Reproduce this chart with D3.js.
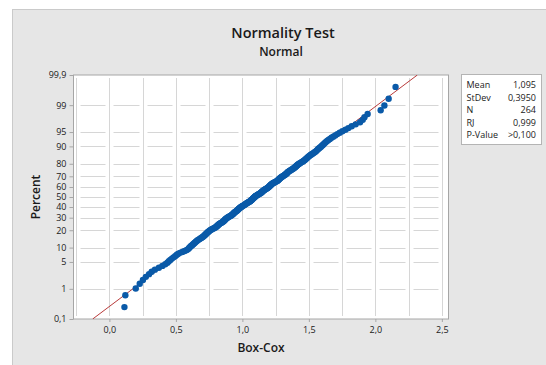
<!DOCTYPE html>
<html>
<head>
<meta charset="utf-8">
<script src="https://cdn.jsdelivr.net/npm/d3@7"></script>
<style>
  html, body { margin: 0; padding: 0; background: #ffffff; }
  svg { display: block; }
  text { font-family: "Open Sans", "Noto Sans", sans-serif; fill: #1a1a1a; }
</style>
</head>
<body>
<svg id="chart" width="546" height="365"></svg>
<script>
// ---------------- data ----------------
const chartTitle = "Normality Test";
const chartSubtitle = "Normal";
const xLabel = "Box-Cox";
const yLabel = "Percent";

// sorted Box-Cox values, N = 264
const boxCox = [
  0.113, 0.120, 0.198, 0.228, 0.252, 0.274, 0.298, 0.318, 0.342, 0.372,
  0.398, 0.420, 0.436, 0.447, 0.458, 0.470, 0.482, 0.494, 0.505, 0.515,
  0.530, 0.548, 0.566, 0.582, 0.592, 0.598, 0.604, 0.610, 0.617, 0.624,
  0.630, 0.636, 0.642, 0.648, 0.655, 0.661, 0.668, 0.676, 0.684, 0.691,
  0.698, 0.704, 0.710, 0.715, 0.720, 0.724, 0.729, 0.733, 0.737, 0.742,
  0.747, 0.752, 0.758, 0.764, 0.771, 0.778, 0.786, 0.793, 0.799, 0.804,
  0.808, 0.812, 0.816, 0.820, 0.824, 0.829, 0.834, 0.839, 0.845, 0.851,
  0.856, 0.860, 0.863, 0.866, 0.869, 0.872, 0.876, 0.880, 0.884, 0.889,
  0.894, 0.899, 0.905, 0.911, 0.916, 0.920, 0.924, 0.928, 0.931, 0.934,
  0.937, 0.940, 0.944, 0.948, 0.952, 0.956, 0.960, 0.963, 0.966, 0.969,
  0.972, 0.975, 0.978, 0.982, 0.986, 0.990, 0.994, 0.998, 1.003, 1.008,
  1.013, 1.017, 1.021, 1.025, 1.029, 1.033, 1.038, 1.043, 1.048, 1.053,
  1.057, 1.061, 1.064, 1.067, 1.070, 1.073, 1.076, 1.079, 1.082, 1.085,
  1.088, 1.091, 1.094, 1.097, 1.100, 1.104, 1.108, 1.113, 1.118, 1.123,
  1.128, 1.133, 1.137, 1.141, 1.144, 1.147, 1.150, 1.153, 1.156, 1.160,
  1.164, 1.168, 1.172, 1.177, 1.182, 1.187, 1.191, 1.195, 1.198, 1.201,
  1.204, 1.207, 1.210, 1.213, 1.216, 1.219, 1.223, 1.227, 1.232, 1.237,
  1.243, 1.249, 1.255, 1.260, 1.264, 1.268, 1.271, 1.274, 1.277, 1.280,
  1.284, 1.288, 1.292, 1.296, 1.301, 1.306, 1.311, 1.316, 1.321, 1.325,
  1.329, 1.333, 1.336, 1.339, 1.343, 1.347, 1.352, 1.357, 1.363, 1.369,
  1.375, 1.381, 1.386, 1.391, 1.396, 1.400, 1.404, 1.408, 1.412, 1.416,
  1.421, 1.427, 1.433, 1.440, 1.447, 1.454, 1.460, 1.466, 1.471, 1.476,
  1.481, 1.486, 1.491, 1.496, 1.502, 1.508, 1.515, 1.522, 1.530, 1.538,
  1.546, 1.553, 1.558, 1.564, 1.570, 1.577, 1.584, 1.591, 1.598, 1.605,
  1.612, 1.620, 1.628, 1.637, 1.647, 1.658, 1.670, 1.683, 1.698, 1.714,
  1.732, 1.752, 1.775, 1.797, 1.822, 1.852, 1.885, 1.905, 1.918, 1.942,
  2.040, 2.068, 2.100, 2.152
];

// fitted normal distribution
const fitMean = 1.095;
const fitStDev = 0.3950;

// axis ticks
const xTicks = [0.0, 0.5, 1.0, 1.5, 2.0, 2.5];
const xGrid = [-0.25, 0.0, 0.25, 0.5, 0.75, 1.0, 1.25, 1.5, 1.75, 2.0, 2.25, 2.5];
const yTicks = [0.1, 1, 5, 10, 20, 30, 40, 50, 60, 70, 80, 90, 95, 99, 99.9];
const yGrid = [1, 5, 10, 20, 30, 40, 50, 60, 70, 80, 90, 95, 99];

// statistics table
const statLabels = ["Mean", "StDev", "N", "RJ", "P-Value"];
const statValues = ["1,095", "0,3950", "264", "0,999", ">0,100"];

// ---------------- drawing ----------------
const svg = d3.select("#chart");
const W = 546, H = 365;
const plot = { left: 73.5, right: 448.5, top: 75, bottom: 319 };

const fmtComma = v => d3.format(".1f")(v).replace(".", ",");

// outer panel
svg.append("rect").attr("x", 12.5).attr("y", 9.5).attr("width", W).attr("height", H)
  .attr("fill", "#e6e6e6").attr("stroke", "#cacaca");

// inverse normal CDF (probability scale of the y axis)
function normInv(p) {
  const a = [-3.969683028665376e+01, 2.209460984245205e+02, -2.759285104469687e+02, 1.383577518672690e+02, -3.066479806614716e+01, 2.506628277459239e+00];
  const b = [-5.447609879822406e+01, 1.615858368580409e+02, -1.556989798598866e+02, 6.680131188771972e+01, -1.328068155288572e+01];
  const c = [-7.784894002430293e-03, -3.223964580411365e-01, -2.400758277161838e+00, -2.549671010336195e+00, 4.374664141464968e+00, 2.938163982698783e+00];
  const d = [7.784695709041462e-03, 3.224671290700398e-01, 2.445134137142996e+00, 3.754408661907416e+00];
  const pl = 0.02425, ph = 1 - pl;
  let q, r;
  if (p < pl) { q = Math.sqrt(-2 * Math.log(p));
    return (((((c[0]*q+c[1])*q+c[2])*q+c[3])*q+c[4])*q+c[5]) / ((((d[0]*q+d[1])*q+d[2])*q+d[3])*q+1); }
  if (p <= ph) { q = p - 0.5; r = q*q;
    return (((((a[0]*r+a[1])*r+a[2])*r+a[3])*r+a[4])*r+a[5])*q / (((((b[0]*r+b[1])*r+b[2])*r+b[3])*r+b[4])*r+1); }
  q = Math.sqrt(-2 * Math.log(1 - p));
  return -(((((c[0]*q+c[1])*q+c[2])*q+c[3])*q+c[4])*q+c[5]) / ((((d[0]*q+d[1])*q+d[2])*q+d[3])*q+1);
}

const zMax = normInv(0.999);
const x = d3.scaleLinear().domain([-0.27, 2.55]).range([plot.left, plot.right]);
const yz = d3.scaleLinear().domain([-zMax, zMax]).range([plot.bottom, plot.top]);
const y = pct => yz(normInv(pct / 100));

// plot area
svg.append("rect").attr("x", plot.left).attr("y", plot.top)
  .attr("width", plot.right - plot.left).attr("height", plot.bottom - plot.top)
  .attr("fill", "#ffffff");

// gridlines with gaps at crossings
const gap = 4;
const grid = svg.append("g").attr("stroke", "#d6d6d6").attr("stroke-width", 1);
const gx = xGrid.map(v => Math.round(x(v)) + 0.5);
const gy = yGrid.map(v => Math.round(y(v)) + 0.5);
gy.forEach(yy => {
  const stops = [plot.left].concat(gx.filter(v => v > plot.left + 1 && v < plot.right - 1)).concat([plot.right]);
  for (let i = 0; i < stops.length - 1; i++) {
    const a = stops[i] + (i === 0 ? 3 : gap), b = stops[i + 1] - (i === stops.length - 2 ? 3 : gap);
    if (b > a) grid.append("line").attr("x1", a).attr("x2", b).attr("y1", yy).attr("y2", yy);
  }
});
gx.forEach(xx => {
  if (xx <= plot.left + 1 || xx >= plot.right - 1) return;
  const stops = [plot.top].concat(gy).concat([plot.bottom]);
  for (let i = 0; i < stops.length - 1; i++) {
    const a = stops[i] + (i === 0 ? 3 : gap), b = stops[i + 1] - (i === stops.length - 2 ? 3 : gap);
    if (b > a) grid.append("line").attr("x1", xx).attr("x2", xx).attr("y1", a).attr("y2", b);
  }
});

// plot border
svg.append("rect").attr("x", plot.left).attr("y", plot.top)
  .attr("width", plot.right - plot.left).attr("height", plot.bottom - plot.top)
  .attr("fill", "none").attr("stroke", "#a6a6a6");

// axes
const xAxis = d3.axisBottom(x).tickValues(xTicks).tickFormat(fmtComma).tickSize(3).tickPadding(5);
const gxA = svg.append("g").attr("transform", `translate(0,${plot.bottom})`).call(xAxis);
const yAxis = d3.axisLeft(yz).tickValues(yTicks.map(p => normInv(p / 100)))
  .tickFormat((d, i) => String(yTicks[i]).replace(".", ",")).tickSize(4).tickPadding(3);
const gyA = svg.append("g").attr("transform", `translate(${plot.left},0)`).call(yAxis);
[gxA, gyA].forEach(g => {
  g.select(".domain").remove();
  g.selectAll(".tick line").attr("stroke", "#a6a6a6");
  g.selectAll(".tick text").attr("fill", "#1a1a1a").style("font-size", "9px")
    .style("font-family", '"Open Sans", "Noto Sans", sans-serif');
});

// clip
svg.append("clipPath").attr("id", "clip").append("rect")
  .attr("x", plot.left).attr("y", plot.top).attr("width", plot.right - plot.left).attr("height", plot.bottom - plot.top);

// fitted line
svg.append("line").attr("clip-path", "url(#clip)")
  .attr("x1", x(fitMean - zMax * fitStDev)).attr("y1", yz(-zMax))
  .attr("x2", x(fitMean + zMax * fitStDev)).attr("y2", yz(zMax))
  .attr("stroke", "#b83a3a").attr("stroke-width", 1);

// points: plotted at median-rank positions
const n = boxCox.length;
svg.append("g").attr("clip-path", "url(#clip)").selectAll("circle").data(boxCox).join("circle")
  .attr("cx", d => x(d))
  .attr("cy", (d, i) => yz(normInv((i + 1 - 0.3) / (n + 0.4))))
  .attr("r", 3.2).attr("fill", "#0a5aa8");

// titles
svg.append("text").attr("x", 283).attr("y", 38).attr("text-anchor", "middle")
  .style("font-size", "14.5px").style("font-weight", 600).text(chartTitle);
svg.append("text").attr("x", 281).attr("y", 56).attr("text-anchor", "middle")
  .style("font-size", "12px").style("font-weight", 600).text(chartSubtitle);
svg.append("text").attr("x", 261).attr("y", 352).attr("text-anchor", "middle")
  .style("font-size", "12px").style("font-weight", 600).text(xLabel);
svg.append("text").attr("transform", "translate(40,197) rotate(-90)").attr("text-anchor", "middle")
  .style("font-size", "12px").style("font-weight", 600).text(yLabel);

// stats box
const box = svg.append("g");
box.append("rect").attr("x", 461.5).attr("y", 74.5).attr("width", 80).attr("height", 70)
  .attr("fill", "#ffffff").attr("stroke", "#b4b4b4");
statLabels.forEach((s, i) => {
  const by = 88 + i * 12.6;
  box.append("text").attr("x", 466.5).attr("y", by).style("font-size", "9px").text(s);
  box.append("text").attr("x", 536).attr("y", by).attr("text-anchor", "end").style("font-size", "9px").text(statValues[i]);
});
</script>
</body>
</html>
